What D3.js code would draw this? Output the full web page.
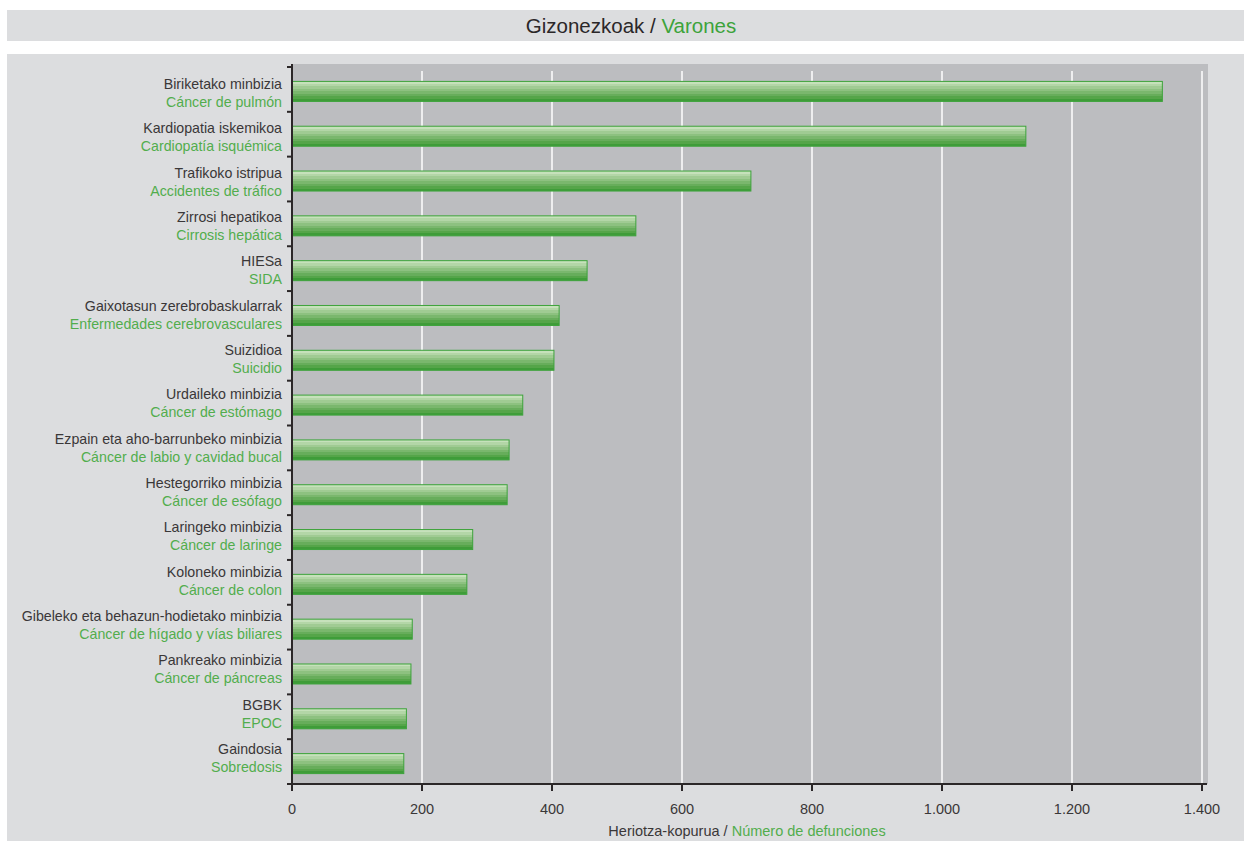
<!DOCTYPE html>
<html>
<head>
<meta charset="utf-8">
<script src="https://cdn.jsdelivr.net/npm/d3@7"></script>
<style>
  body { margin: 0; background: #fff; }
  svg { display: block; font-family: "Liberation Sans", Arial, sans-serif; }
</style>
</head>
<body>
<div id="chart"></div>
<script>
// Kausak (euskaraz / gaztelaniaz) eta heriotza-kopurua
const causesEu = [
  "Biriketako minbizia", "Kardiopatia iskemikoa", "Trafikoko istripua", "Zirrosi hepatikoa",
  "HIESa", "Gaixotasun zerebrobaskularrak", "Suizidioa", "Urdaileko minbizia",
  "Ezpain eta aho-barrunbeko minbizia", "Hestegorriko minbizia", "Laringeko minbizia",
  "Koloneko minbizia", "Gibeleko eta behazun-hodietako minbizia", "Pankreako minbizia",
  "BGBK", "Gaindosia"
]
const causesEs = [
  "Cáncer de pulmón", "Cardiopatía isquémica", "Accidentes de tráfico", "Cirrosis hepática",
  "SIDA", "Enfermedades cerebrovasculares", "Suicidio", "Cáncer de estómago",
  "Cáncer de labio y cavidad bucal", "Cáncer de esófago", "Cáncer de laringe",
  "Cáncer de colon", "Cáncer de hígado y vías biliares", "Cáncer de páncreas",
  "EPOC", "Sobredosis"
]
const deaths = [1339, 1129, 706, 529, 454, 411, 403, 355, 334, 331, 278, 269, 185, 183, 176, 172]
const xTicks = [0, 200, 400, 600, 800, 1000, 1200, 1400]

const data = causesEu.map((eu, i) => ({ eu: eu, es: causesEs[i], value: deaths[i] }))

const W = 1244, H = 841
const green = "#3da33b", dark = "#2b2728", labelDark = "#3a3738", labelGreen = "#52ad4d"

const svg = d3.select("#chart").append("svg")
  .attr("width", W)
  .attr("height", H)

/* ---------------- gradient for the bars ---------------- */
const stripes = ["#c6e1bb", "#b3d6a7", "#a0cb93", "#8dc180", "#7ab76d", "#67ad5b", "#55a549", "#3f9c39"]
const grad = svg.append("defs").append("linearGradient")
  .attr("id", "barGrad")
  .attr("x1", 0).attr("y1", 0).attr("x2", 0).attr("y2", 1)
stripes.forEach((c, i) => {
  grad.append("stop").attr("offset", i / stripes.length).attr("stop-color", c)
  grad.append("stop").attr("offset", (i + 1) / stripes.length).attr("stop-color", c)
})

/* ---------------- backgrounds ---------------- */
svg.append("rect").attr("x", 7).attr("y", 10).attr("width", W - 7).attr("height", 31).attr("fill", "#dcdddf")
svg.append("rect").attr("x", 7).attr("y", 54).attr("width", W - 7).attr("height", H - 54).attr("fill", "#dcdddf")

const plot = { left: 292, right: 1208, top: 64, bottom: 784 }
svg.append("rect")
  .attr("x", plot.left).attr("y", plot.top)
  .attr("width", plot.right - plot.left).attr("height", plot.bottom - plot.top)
  .attr("fill", "#bcbdc0")

// titre
const title = svg.append("text")
  .attr("x", 631).attr("y", 33)
  .attr("text-anchor", "middle")
  .style("font-size", "20.5px")
title.append("tspan").attr("fill", dark).text("Gizonezkoak / ")
title.append("tspan").attr("fill", green).text("Varones")

/* ---------------- scales ---------------- */
const x = d3.scaleLinear().domain([0, 1400]).range([292, 1202])
const y = d3.scaleBand().domain(causesEu).range([67, 784])
const bw = y.bandwidth()
// les libellés dérivent légèrement par rapport aux bandes
const yLabel = d3.scalePoint().domain(causesEu).range([89, 754])

/* ---------------- grid ---------------- */
svg.append("g")
  .selectAll("line")
  .data(xTicks.filter(d => d > 0))
  .join("line")
  .attr("x1", d => x(d)).attr("x2", d => x(d))
  .attr("y1", 71).attr("y2", plot.bottom)
  .attr("stroke", "#ffffff")
  .attr("stroke-width", 1.5)

/* ---------------- bars ---------------- */
const barH = 20
svg.append("g")
  .selectAll("rect")
  .data(data)
  .join("rect")
  .attr("x", x(0))
  .attr("y", d => y(d.eu) + bw / 2 - barH / 2 + 2)
  .attr("width", d => x(d.value) - x(0))
  .attr("height", barH)
  .attr("fill", "url(#barGrad)")
  .attr("stroke", green)
  .attr("stroke-width", 1)

/* ---------------- labels ---------------- */
const labels = svg.append("g")
  .attr("text-anchor", "end")
  .style("font-size", "14.2px")
labels.selectAll("text.eu")
  .data(data)
  .join("text")
  .attr("class", "eu")
  .attr("x", 282)
  .attr("y", d => yLabel(d.eu))
  .attr("fill", labelDark)
  .text(d => d.eu)
labels.selectAll("text.es")
  .data(data)
  .join("text")
  .attr("class", "es")
  .attr("x", 282)
  .attr("y", d => yLabel(d.eu) + 18)
  .attr("fill", labelGreen)
  .text(d => d.es)

/* ---------------- axes ---------------- */
// axe Y : ligne + graduations aux limites des bandes
const bounds = causesEu.map(d => y(d)).concat([y.range()[1]])
const yAxis = svg.append("g")
yAxis.append("line")
  .attr("x1", plot.left).attr("x2", plot.left)
  .attr("y1", plot.top).attr("y2", plot.bottom)
  .attr("stroke", dark).attr("stroke-width", 2)
yAxis.selectAll("line.tick")
  .data(bounds)
  .join("line")
  .attr("class", "tick")
  .attr("x1", plot.left - 5).attr("x2", plot.left)
  .attr("y1", d => d).attr("y2", d => d)
  .attr("stroke", dark).attr("stroke-width", 2)

// axe X
const locale = d3.formatLocale({ decimal: ",", thousands: ".", grouping: [3], currency: ["", ""] })
const fmt = locale.format(",d")

const xAxis = svg.append("g")
xAxis.append("line")
  .attr("x1", plot.left).attr("x2", plot.right - 1)
  .attr("y1", plot.bottom).attr("y2", plot.bottom)
  .attr("stroke", dark).attr("stroke-width", 2)
xAxis.selectAll("line.tick")
  .data(xTicks)
  .join("line")
  .attr("class", "tick")
  .attr("x1", d => x(d)).attr("x2", d => x(d))
  .attr("y1", plot.bottom).attr("y2", plot.bottom + 7)
  .attr("stroke", dark).attr("stroke-width", 2)
xAxis.selectAll("text")
  .data(xTicks)
  .join("text")
  .attr("x", d => x(d))
  .attr("y", 814)
  .attr("text-anchor", "middle")
  .attr("fill", labelDark)
  .style("font-size", "14.5px")
  .text(d => fmt(d))

// titre de l'axe X
const xTitle = svg.append("text")
  .attr("x", 747).attr("y", 836)
  .attr("text-anchor", "middle")
  .style("font-size", "14.5px")
xTitle.append("tspan").attr("fill", labelDark).text("Heriotza-kopurua / ")
xTitle.append("tspan").attr("fill", labelGreen).text("Número de defunciones")
</script>
</body>
</html>
